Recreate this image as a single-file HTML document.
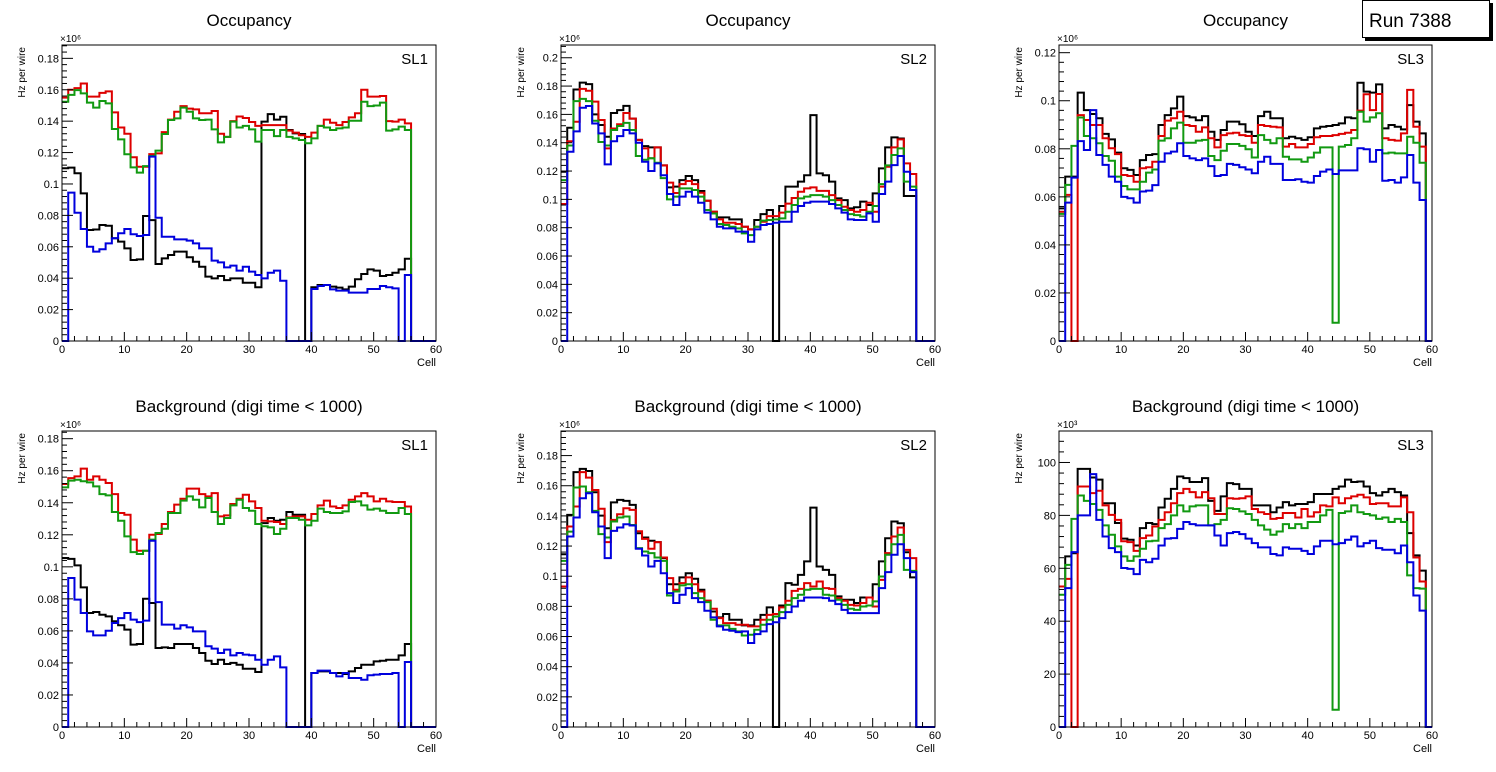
<!DOCTYPE html>
<html><head><meta charset="utf-8">
<style>
html,body{margin:0;padding:0;background:#fff;}
svg{display:block;font-family:"Liberation Sans",sans-serif;}
</style></head>
<body>
<svg id="c" width="1496" height="772" viewBox="0 0 1496 772"></svg>
<script>
// ---- data (units of 1e3 Hz per wire) ----
const cells = [0,60];
const xTicks = [0,10,20,30,40,50,60];
const p1Black=[110,110.4,106.8,94,70.7,71,73.9,73.4,65.4,63.3,59,51.6,52,79.6,77,49,52.6,54.8,56.9,56.9,53.3,50.5,47.3,41,39.9,41.4,38.8,39.9,39.9,37.1,37.1,34.2,139.7,144.5,141,142.8,134.4,132.2,131.8,0,34.2,35.7,35.7,34.6,34,32.9,34.6,39.3,42.7,45.6,44.8,41.4,42,43.5,45.6,52.4,0,0,0,0];
const p1Red=[155,160,161,164,155.6,155.6,158,159,145.6,136,132,117,111,111,119,119.5,133,141,146,149.6,148,147.5,145,145,146.5,132,130,140,143,142,139.5,137,137.5,137.5,137.5,137.5,134,132.7,131,130,132.7,137,141,139,137.5,139.5,142.4,145,160,155.6,155.6,156,140,139.7,141,138.6,0,0,0,0];
const p1Green=[152.4,156.7,159.8,157.7,151.8,148.6,152.8,151.3,135,128.4,118.9,110.6,107.2,111.4,117.8,121.2,131.8,140.7,141.8,148.6,146,141.8,140.7,141,134.8,126.5,130,139.7,136,137,134.8,127,134.4,134.4,130.5,134.4,130,129,128,125.9,129,137,136,134.4,135.4,136,140.3,140.3,152.4,149.6,150,151.8,134,134.8,136.5,134.4,0,0,0,0];
const p1Blue=[0,94.5,81.7,71.3,60,56.9,58.4,62.2,65.4,68.6,71.3,68,66.9,67.5,117.4,78.5,66.4,66.4,64.7,64.7,63.9,62.2,59,59,51.2,50.1,46.9,48,44.8,47.3,44.2,42,39.9,43.5,44.8,38.4,0,0,0,0,33.1,35,35.7,32.9,32.1,32.1,30.8,30.8,30.8,33.1,33.1,35,34.2,33.5,0,42,0,0,0,0];
const p2Black=[119.5,150.6,177.6,182.4,181.4,160,152.5,144.2,161,163,166,157,142,137.6,136.7,136.7,124,108.5,109,113.6,116.5,113.6,105.9,99,91.3,87.3,87.3,85.9,85.9,80.7,78.8,85.4,89.6,92.5,0,95.3,109,109,112.5,117,159.5,118.4,117,112.5,100.7,99.5,93.6,94.4,98.4,96,104.2,121.9,136.7,143.8,143,102.4,102.4,0,0,0];
const p2Red=[96.7,141,154.8,178,176.7,169,156,136,150,153,161,157,142,136,129,136.7,124,111.8,104.5,110.8,113,110.8,104.7,99,91.3,85.9,83.5,83.5,82.6,80.7,78.8,80.7,84.2,88.2,88.2,90.6,97,101,105.4,107.8,108.5,106,106,103,99.5,94.8,92.5,91.3,92.5,97.6,91.3,109,123,136.7,142.4,125.4,117.9,0,0,0];
const p2Green=[113.6,138,169.4,171,169.4,155.5,140.5,138,149,151.8,154,149,130.6,128,129,125.9,115,100,101.9,107.8,107.8,106.6,101.9,92.5,90,82.6,81.9,80.7,79.5,76,74.8,80.7,85,85.4,85.9,86.6,91.3,96,100.7,101.9,103,103,101.9,99.5,96,92.5,89.6,88.9,87.8,91.3,95.3,110.8,124,131.3,136,112.5,109,0,0,0];
const p2Blue=[0,133.6,148,164.7,165.9,153.6,146.6,124.7,141,144.7,149,146.6,140,126.6,120,125.4,117,103.8,96,101.9,105.4,101.9,97.6,90.6,85.9,80.7,79.5,79.5,77.2,77.2,70.1,78.8,81.9,82.6,83.5,84.2,84.2,91.3,95.3,97.6,98.4,98.4,98.4,96.7,93.6,90.6,85.9,85.4,85.4,90.1,84.2,103.8,112.5,124.2,130.6,119.5,106.6,0,0,0];
const p3Black=[55.2,68.4,68.4,103.4,96.1,94.5,92.7,86.2,83.9,78.4,71.9,71.2,69.1,75.3,77.4,77.8,89.9,94,96.8,101.7,93.6,93.1,91.9,93.6,87.1,83.7,87.8,91.3,91.3,90.2,87.1,85.3,93.6,95.4,92.7,92.7,84.4,85,84.4,83.7,84.8,88.5,89.2,89.5,89.9,90.6,93.1,92.7,107.5,103.8,103.4,106.8,88.5,89.9,89.2,88.1,98.2,91.3,86.4,0];
const p3Red=[53.8,60.8,0,94,92,89.9,89.9,84.4,80.2,77.8,69.1,68.7,66.3,71.9,72.3,74.6,85.3,91.7,92.7,95.4,89.9,89.5,87.1,88.9,84.4,80.6,85.7,86.4,86.7,85.7,85.3,82.5,89.9,89.5,89.2,88.9,80.9,82,80.6,80.6,82,84.8,85.3,85.3,85.7,86.2,86.7,87.8,95.9,102.7,96.1,102.8,84.4,83.7,83.4,86.4,104.5,89.2,80.9,0];
const p3Green=[52.9,65,81.2,93,85.3,84.4,82.3,77,75,68.4,64.5,63.1,63.1,66.3,70.1,71.4,83.4,84.4,88.5,90.9,82.5,82.5,83.4,83.7,77,75.3,79.2,82,82,81.2,79.8,76.4,85.7,83.7,82.3,84.4,76.7,75.6,75.6,74.6,76.4,78.4,80.6,80.6,7.6,80.9,81.6,84.4,95.4,91.3,93.1,94.8,78.1,78.4,78.1,78.1,85,82.5,74.2,0];
const p3Blue=[0,57.6,68,83.2,79.5,96.1,77.4,73.3,68.4,66.3,60,59.4,57.6,62.2,62.6,64.9,74.6,78.1,78.8,82.3,77,76,75.3,76,72.8,68.7,69.1,73.7,73.3,72.3,71.4,69.8,74.6,76.7,73.7,73.7,67,67,67.3,66.3,65.9,68.7,70.5,71.4,69.5,71,71,71,80.2,79.8,74.6,79.5,66.7,67,65.9,68.1,77.4,65.9,58.7,0];
const p4Black=[105.5,105,100.9,87.2,71.2,71.8,70.1,69.1,66,63.5,60.8,51.4,51.8,80.1,77.4,49.3,49.7,49.3,51.8,51.8,51.8,49.3,46.2,41.4,39.3,42,39.3,40,38.9,36.4,36.4,34.3,127.3,130.5,128.8,129.4,134.2,132.5,132.5,0,33.7,34.7,34.7,33.7,33.7,33.1,34.7,36.8,38.9,38.9,41,41.4,42,42,44.7,51.8,0,0,0,0];
const p4Red=[151.7,155.4,156.5,161.3,154.4,156.5,154.4,152.3,145.4,133.6,132.5,117,110,110,120,120.5,126.7,134.2,138.8,142.5,148.8,148.8,145.4,144,146,131.5,132.1,139.2,142.5,145,140.9,136.7,128.8,128.4,128,126.7,130.9,131.5,131.5,129.4,133,138.4,141.3,137.7,136.7,138.4,141.9,144,146,144,140.9,142.5,140.9,140.5,140.5,137.7,0,0,0,0];
const p4Green=[149.6,153.8,154.4,153.4,152.7,150.2,145.4,144.6,134.2,128.8,119,109.2,108,110,117,121.1,123.8,133.6,133.6,141.3,144,141.9,137.1,143,134.2,126.7,130.5,138.4,141.9,136.7,135,126.7,125.3,124.6,120.5,123.8,130.5,130.5,129.4,125.9,128.8,136.3,134.2,133.6,133.6,134.6,140.5,140.9,138.4,135.7,136.3,135,133.6,133.6,136.7,133,0,0,0,0];
const p4Blue=[0,93,79.5,71.2,59.7,57.2,57.2,60.1,64.9,68,71.2,67,65.5,66.4,116.3,78,63.9,63.9,61.4,63.5,62.2,59.7,59.7,50.4,48.9,46.2,48.3,44.7,46.2,45.2,44.8,42,38.9,42,44.1,37.2,0,0,0,0,33.7,35.2,35.2,33.7,31.6,33.7,30.6,30.6,29.5,32.3,32.7,33.1,33.1,33.7,0,40.6,0,0,0,0];
const p5Black=[114.6,140.7,169,171.2,169.8,155.7,140.2,131.8,149,150.6,150,147.3,128.5,125.7,123.5,122.6,112,94.7,94.7,99.2,102,98.3,91,83.7,76.6,72.7,74.9,71.1,71.1,67.4,67.4,71.1,74.4,79.3,0,80.6,95.4,94.3,100.9,109.8,145.5,106.4,104.2,100.9,86.6,84.4,84.4,82.2,85.9,85.9,94.7,109.8,125.2,136.3,135.1,115.9,99.2,0,0,0];
const p5Red=[93.2,133,146.2,169,165.4,157.2,144.7,122.6,137.4,141.1,145.1,144,129.8,124.8,118.2,122.6,112.4,98.7,91,95.4,99.2,94.7,89.9,83.7,78.4,72.2,68.9,68.9,67.8,67.8,66.7,66.7,71.1,74.4,74.9,79.3,83.7,90.3,91.6,95.4,93.2,96.5,92.1,91.6,85.5,83.7,81,80.6,82.2,85.9,79.9,97.6,115.3,126.3,132.3,117.5,112,0,0,0];
const p5Green=[110.2,129.6,158.8,159.5,155.7,143.3,127.9,125.7,136.3,138.9,139.6,134,118.6,116.4,115.3,112.4,110.2,87.2,89.9,93.9,94.7,88.8,85.5,82.8,71.1,67.4,67.4,65.1,63.4,60.7,61.2,64.5,67.8,71.1,73.3,76.2,81,85.5,87.7,91,91.6,91.6,87.7,87.2,84.4,81,78.4,77.7,79.9,80.6,83.3,99.8,114.2,121.2,127.4,104.2,103.5,0,0,0];
const p5Blue=[0,126.3,138.9,151.7,155,142.4,133,112,130.1,132.3,134.5,133.6,118.2,113.7,106.4,110.2,102,88.8,82.2,87.7,92.1,85.5,82.8,77.1,72.7,66.7,64.5,63.8,62.9,63.4,55.7,61.6,63.4,68.2,69.5,72.2,76.2,79.9,83.7,85.9,85.9,85.9,85.5,83.7,81.5,77.7,75.5,75.5,75.5,75.5,75.5,92.1,102.7,114.2,121.2,112,102.7,0,0,0];
const p6Black=[53.1,64.5,65.7,97.6,97.6,94.3,93.5,84.6,84.6,77.1,71.2,70.8,68.6,75.2,77.1,76.7,83,86.3,90,94.7,94.1,92.6,92.6,94.1,85.5,81.7,87.2,92.2,91.8,90,90,83.8,83.8,83.8,81.2,83,85,83.8,84.3,84.3,85,88.1,88.1,88.1,90,90.9,93.5,92.6,92.8,90.9,88.4,87.5,88.8,90,88.8,87.5,73.3,64.9,59.1,0];
const p6Red=[53.1,56,0,90.9,90.9,88.4,89.3,83.8,80.2,78.3,70.2,69.9,66.6,71.4,72.4,75.8,78.3,81.2,84.6,88.4,90,88.8,86.8,88.8,86.5,80.5,80.5,86.5,86.3,86.5,87.2,82.4,81.2,80.5,78.7,79,80.9,80.9,79.2,82.4,79.6,81.2,83.8,83.4,86.8,84.6,86.5,87.2,87.8,86.8,84.3,84.6,84.6,83.4,83.4,86.8,81.2,64.1,55,0];
const p6Green=[50,61.3,78.7,87.5,85.5,84.3,82.1,76.2,72.7,68.3,64.5,62.8,64.5,67.4,70.2,70.4,75.2,76.7,80,83.8,81.5,83.4,83.8,83.8,76.2,76.7,78.3,82.7,82.4,81.5,80.5,78.3,76.2,74.6,72.7,73.9,76.7,75.2,76.7,75.2,77.5,77.5,80,82.1,6.5,80.9,81.5,83.8,81.2,80.5,80,78.7,79.2,77.5,78.7,77.5,57.3,52.5,52.3,0];
const p6Blue=[0,52.5,66.1,80,80,95.6,78.3,72,67.6,66.1,60.1,59.8,57.8,63.2,62.3,63.6,68.6,71.2,71.4,74.9,77.5,76.7,76.2,76.2,76.2,72.4,68.6,73.3,73.7,72.9,71.2,69.5,67.9,67.9,65.4,64.9,67.9,67.4,67.4,66.6,65.4,68.3,70.4,70.4,69.1,69.5,70.8,72,68.3,69.5,70.4,67.6,67,67,65.7,68.6,62.3,49.7,44,0];
const yTicks1=[0,20,40,60,80,100,120,140,160,180];
const yTicks2=[0,20,40,60,80,100,120,140,160,180,200];
const yTicks3=[0,20,40,60,80,100,120];
const yTicks6=[0,20,40,60,80,100];
</script>
<script>
const NS="http://www.w3.org/2000/svg";
const svg=document.getElementById('c');
function mk(tag,attrs,parent){const e=document.createElementNS(NS,tag);for(const k in attrs)e.setAttribute(k,attrs[k]);(parent||svg).appendChild(e);return e;}
const colors={black:"#000000",red:"#dd0000",green:"#119911",blue:"#0000dd"};
const panels=[
 {L:62,R:436,T:45,B:341,max:188.5,ticks:yTicks1,fmt:v=>v===0?"0":String(v/1000).replace(/^0\./,"0."),mult:"×10⁶",title:"Occupancy",sl:"SL1",s:[p1Black,p1Red,p1Green,p1Blue],sub:4},
 {L:561,R:935,T:45,B:341,max:209,ticks:yTicks2,fmt:v=>v===0?"0":String(v/1000),mult:"×10⁶",title:"Occupancy",sl:"SL2",s:[p2Black,p2Red,p2Green,p2Blue],sub:4},
 {L:1059,R:1432,T:45,B:341,max:123.2,ticks:yTicks3,fmt:v=>v===0?"0":String(v/1000),mult:"×10⁶",title:"Occupancy",sl:"SL3",s:[p3Black,p3Red,p3Green,p3Blue],sub:4},
 {L:62,R:436,T:431,B:727,max:184.8,ticks:yTicks1,fmt:v=>v===0?"0":String(v/1000),mult:"×10⁶",title:"Background (digi time < 1000)",sl:"SL1",s:[p4Black,p4Red,p4Green,p4Blue],sub:4},
 {L:561,R:935,T:431,B:727,max:196.3,ticks:yTicks1,fmt:v=>v===0?"0":String(v/1000),mult:"×10⁶",title:"Background (digi time < 1000)",sl:"SL2",s:[p5Black,p5Red,p5Green,p5Blue],sub:4},
 {L:1059,R:1432,T:431,B:727,max:111.9,ticks:yTicks6,fmt:v=>String(v),mult:"×10³",title:"Background (digi time < 1000)",sl:"SL3",s:[p6Black,p6Red,p6Green,p6Blue],sub:4}
];
const names=["black","red","green","blue"];
panels.forEach((p,pi)=>{
 const g=mk('g',{});
 
 
 const xs=v=>p.L+(v-cells[0])/(cells[1]-cells[0])*(p.R-p.L);
 const ys=v=>p.B-v/p.max*(p.B-p.T);
 const t=mk('text',{x:(p.L+p.R)/2,y:p.T-19,'text-anchor':'middle','font-size':17},g);t.textContent=p.title;
 
 
 // series
 p.s.forEach((arr,si)=>{
  let d="M"+xs(0)+","+ys(arr[0]);
  for(let i=0;i<arr.length;i++){d+=" L"+xs(i)+","+ys(arr[i])+" L"+xs(i+1)+","+ys(arr[i]);}
  const path=mk('path',{d:d,fill:'none',stroke:colors[names[si]],'stroke-width':2,'stroke-linejoin':'miter'},g);
  
  
 });
 // frame
 const fr=mk('rect',{x:p.L,y:p.T,width:p.R-p.L,height:p.B-p.T,fill:'none',stroke:'#000','stroke-width':1},g);
 
 
 // x ticks
 for(let v=0;v<=60;v+=2){const maj=v%10===0;mk('line',{x1:xs(v),x2:xs(v),y1:p.B,y2:p.B-(maj?9:5),stroke:'#000','stroke-width':1},g);}
 xTicks.forEach(v=>{const tx=mk('text',{x:xs(v),y:p.B+12,'text-anchor':'middle','font-size':11},g);tx.textContent=v;
  
  });
 // y ticks
 const step=p.ticks[1]-p.ticks[0];
 for(let v=0;v<=p.max;v+=step/5){const maj=Math.abs(v/step-Math.round(v/step))<1e-6;mk('line',{x1:p.L,x2:p.L+(maj?11:5),y1:ys(v),y2:ys(v),stroke:'#000','stroke-width':1},g);}
 p.ticks.forEach(v=>{const ty=mk('text',{x:p.L-3,y:ys(v)+4,'text-anchor':'end','font-size':11},g);ty.textContent=p.fmt(v);
  
  });
 const m=mk('text',{x:p.L-2,y:p.T-3,'font-size':10},g);m.textContent=p.mult;
 
 
 const sl=mk('text',{x:p.R-8,y:p.T+19,'text-anchor':'end','font-size':15},g);sl.textContent=p.sl;
 
 
 const cx=mk('text',{x:p.R,y:p.B+25,'text-anchor':'end','font-size':11},g);cx.textContent="Cell";
 
 
 const yl=mk('text',{x:0,y:0,'text-anchor':'end','font-size':10,transform:`translate(${p.L-37},${p.T+2}) rotate(-90)`},g);yl.textContent="Hz per wire";
 
 
});
// run box
const rb=mk('g',{});


mk('rect',{x:1365,y:3,width:128,height:38,fill:'#000'},rb);
mk('rect',{x:1362.5,y:0.5,width:127,height:37,fill:'#fff',stroke:'#000','stroke-width':1},rb);
const rt=mk('text',{x:1369,y:27,'font-size':19},rb);rt.textContent="Run 7388";


</script>
</body></html>
